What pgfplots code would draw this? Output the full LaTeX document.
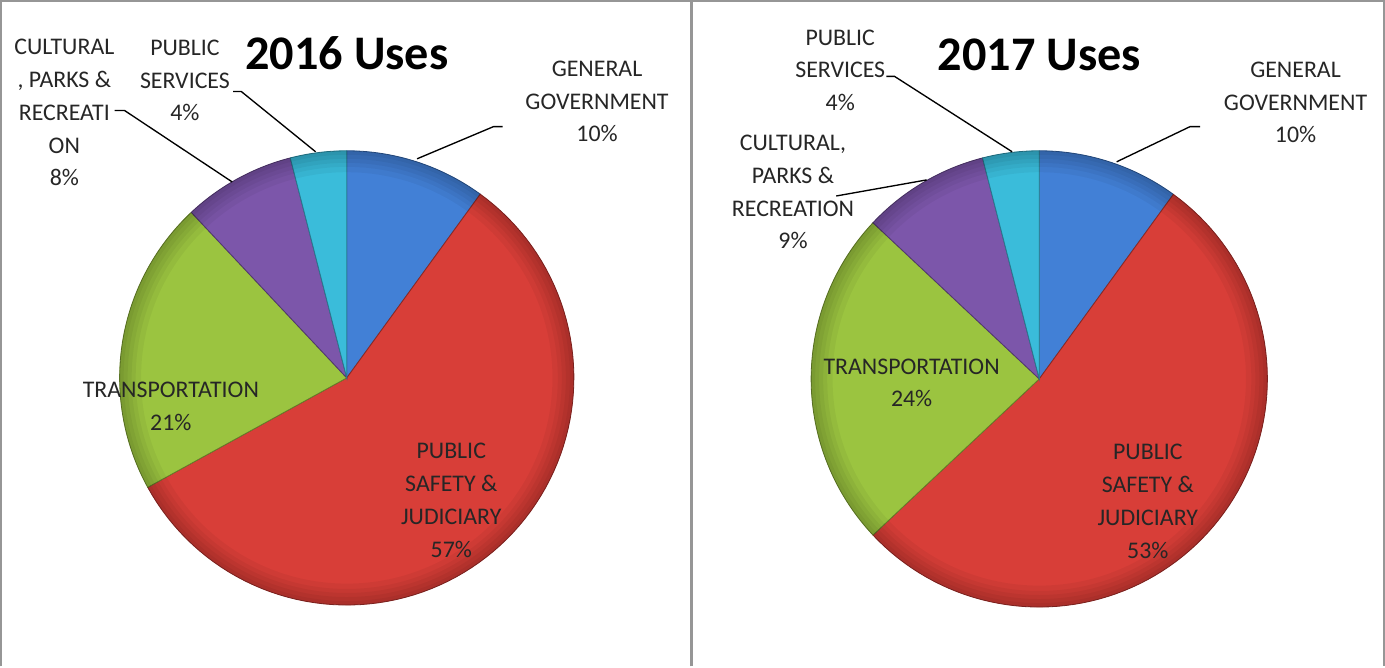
\documentclass[border=0pt]{standalone}
\usepackage{pgfplots}
\usepackage{pgfplotstable}
\pgfplotsset{compat=1.18}
\usepackage{fontspec}
\setmainfont{Carlito}

\definecolor{cgen}{RGB}{66,128,214}
\definecolor{cps}{RGB}{216,62,56}
\definecolor{ctr}{RGB}{155,196,64}
\definecolor{ccu}{RGB}{124,86,170}
\definecolor{cpub}{RGB}{58,188,218}
\definecolor{frame}{RGB}{150,150,150}

% order: general government, public safety & judiciary, transportation, cultural parks & recreation, public services
\pgfplotstableread{
cat value
gen 10
ps 57
tr 21
cu 8
pub 4
}\usesA
\pgfplotstableread{
cat value
gen 10
ps 53
tr 24
cu 9
pub 4
}\usesB

\newcommand\drawpie[4]{%
 \def\cum{0}%
 \pgfplotsforeachungrouped \i in {0,...,4}{%
   \pgfplotstablegetelem{\i}{value}\of{#1}%
   \edef\col{\ifcase\i cgen\or cps\or ctr\or ccu\or cpub\fi}%
   \pgfmathsetmacro\aS{90-3.6*\cum}%
   \pgfmathsetmacro\cum{\cum+\pgfplotsretval}%
   \pgfmathsetmacro\aE{90-3.6*\cum}%
   \edef\temp{\noexpand\addplot[fill=\col, draw=\col!65!black, line width=0.6pt, domain=\aE:\aS, samples=90, variable=\noexpand\t] ({#2+#4*cos(\noexpand\t)},{#3+#4*sin(\noexpand\t)}) -- (axis cs:#2,#3) -- cycle;}%
   \temp
 }%
 % soft darkening toward the rim (3D look)
 \pgfplotsforeachungrouped \w in {3,6,9,12,16}{%
   \pgfmathsetmacro\rr{#4*0.75-\w/2}%
   \edef\temp{\noexpand\draw[black, opacity=0.045, line width=\w pt] (axis cs:#2,#3) circle[radius=\rr pt];}%
   \temp
 }%
}

\begin{document}
\begin{tikzpicture}
\begin{axis}[
  x=0.75pt, y=0.75pt,
  xmin=0, xmax=1385, ymin=0, ymax=665,
  hide axis, clip=false, scale only axis,
]
\drawpie{\usesA}{351}{287}{226}
\drawpie{\usesB}{1040}{286}{227}

% frame
\draw[frame, line width=1.5pt] (axis cs:7,0) -- (axis cs:7,662) -- (axis cs:1383,662) -- (axis cs:1383,0);
\draw[frame, line width=1.5pt] (axis cs:694,0) -- (axis cs:694,662);

% leader lines
\draw[black, line width=1pt] (axis cs:421,505) -- (axis cs:497,537) -- (axis cs:506,537);
\draw[black, line width=1pt] (axis cs:238,572) -- (axis cs:246,572) -- (axis cs:320,512);
\draw[black, line width=1pt] (axis cs:120,553) -- (axis cs:130,553) -- (axis cs:237,482);
\draw[black, line width=1pt] (axis cs:888,587) -- (axis cs:896,587) -- (axis cs:1013,512);
\draw[black, line width=1pt] (axis cs:1117,502) -- (axis cs:1190,537) -- (axis cs:1200,537);
\draw[black, line width=1pt] (axis cs:838,468) -- (axis cs:928,484);

% titles
\node[font=\fontsize{36}{40}\selectfont\bfseries] at (axis cs:351,610) {2016 Uses};
\node[font=\fontsize{36}{40}\selectfont\bfseries] at (axis cs:1040,608) {2017 Uses};

% labels 2016
\tikzset{lab/.style={font=\fontsize{17.8}{24.5}\selectfont, align=center, text=black!85, inner sep=0pt}}
\node[lab] at (axis cs:600,562) {GENERAL\\GOVERNMENT\\10\%};
\node[lab] at (axis cs:190,583) {PUBLIC\\SERVICES\\4\%};
\node[lab] at (axis cs:70,551) {CULTURAL\\, PARKS \&\\RECREATI\\ON\\8\%};
\node[lab] at (axis cs:176,259) {TRANSPORTATION\\21\%};
\node[lab] at (axis cs:455,165) {PUBLIC\\SAFETY \&\\JUDICIARY\\57\%};

% labels 2017
\node[lab] at (axis cs:1295,561) {GENERAL\\GOVERNMENT\\10\%};
\node[lab] at (axis cs:842,593) {PUBLIC\\SERVICES\\4\%};
\node[lab] at (axis cs:795,472) {CULTURAL,\\PARKS \&\\RECREATION\\9\%};
\node[lab] at (axis cs:913,282) {TRANSPORTATION\\24\%};
\node[lab] at (axis cs:1148,164) {PUBLIC\\SAFETY \&\\JUDICIARY\\53\%};
\end{axis}
\end{tikzpicture}
\end{document}
